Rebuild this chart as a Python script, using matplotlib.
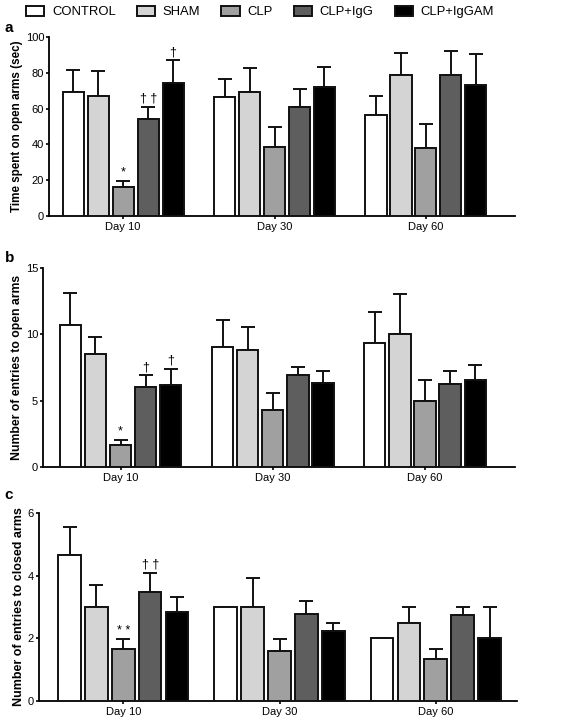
import numpy as np
import matplotlib
matplotlib.use("Agg")
import matplotlib.pyplot as plt
from matplotlib.patches import Patch

plt.rcParams["font.family"] = ["Liberation Sans", "DejaVu Sans"]

groups = ["CONTROL", "SHAM", "CLP", "CLP+IgG", "CLP+IgGAM"]
colors = ["#ffffff", "#d4d4d4", "#a0a0a0", "#5e5e5e", "#000000"]
days = ["Day 10", "Day 30", "Day 60"]

# mean values, rows = groups, cols = days
time_open = [[69.5, 66.5, 56.5],
             [67.0, 69.0, 79.0],
             [16.0, 38.5, 38.0],
             [54.0, 61.0, 79.0],
             [74.5, 72.0, 73.0]]
time_open_err = [[12.0, 10.0, 10.5],
                 [14.0, 13.5, 12.0],
                 [3.5, 11.0, 13.5],
                 [7.0, 10.0, 13.0],
                 [12.5, 11.0, 17.5]]

entries_open = [[10.7, 9.04, 9.36],
                [8.53, 8.78, 10.04],
                [1.69, 4.33, 5.0],
                [6.04, 6.92, 6.27],
                [6.17, 6.34, 6.54]]
entries_open_err = [[2.4, 2.06, 2.34],
                    [1.29, 1.79, 3.02],
                    [0.32, 1.21, 1.54],
                    [0.86, 0.61, 0.93],
                    [1.23, 0.91, 1.16]]

entries_closed = [[4.67, 3.0, 2.0],
                  [3.0, 3.0, 2.5],
                  [1.65, 1.59, 1.33],
                  [3.49, 2.78, 2.74],
                  [2.84, 2.23, 2.0]]
entries_closed_err = [[0.88, 0.0, 0.0],
                      [0.71, 0.91, 0.5],
                      [0.33, 0.39, 0.34],
                      [0.6, 0.4, 0.26],
                      [0.48, 0.26, 1.0]]

# significance marks: (group index, day index, text)
marks_a = [(2, 0, "*"), (3, 0, "† †"), (4, 0, "†")]
marks_b = [(2, 0, "*"), (3, 0, "†"), (4, 0, "†")]
marks_c = [(2, 0, "* *"), (3, 0, "† †")]

fig = plt.figure(figsize=(5.72, 7.24), dpi=100)


def draw_panel(rect, means, errs, ylim, yticks, ylabel, label_size,
               marks, letter, letter_y, xlim, pitch=0.165, width=0.14):
    ax = fig.add_axes(rect)
    x = np.arange(len(days))
    for i, g in enumerate(groups):
        pos = x + (i - 2) * pitch
        m = np.array(means[i])
        e = np.array(errs[i])
        ax.bar(pos, m, width=width, color=colors[i], edgecolor="#111111",
               linewidth=1.4, zorder=3)
        ax.errorbar(pos, m, yerr=[np.zeros_like(e), e], fmt="none",
                    ecolor="#111111", elinewidth=1.4, capsize=5, capthick=1.4,
                    zorder=2)
    off = (ylim[1] - ylim[0]) * 0.012
    for gi, di, txt in marks:
        pos = x[di] + (gi - 2) * pitch
        top = means[gi][di] + errs[gi][di] + off
        ax.text(pos, top, txt, ha="center", va="bottom", fontsize=9)
    ax.set_ylim(*ylim)
    ax.set_yticks(yticks)
    ax.set_xlim(*xlim)
    ax.set_xticks(x)
    ax.set_xticklabels(days)
    ax.spines["top"].set_visible(False)
    ax.spines["right"].set_visible(False)
    for s in ("left", "bottom"):
        ax.spines[s].set_linewidth(1.3)
    ax.tick_params(axis="y", labelsize=8, width=1.2, length=2.5, pad=1)
    ax.tick_params(axis="x", labelsize=8, width=1.2, length=2.5, pad=2)
    ax.set_ylabel(ylabel, fontsize=label_size, fontweight="bold", labelpad=2)
    fig.text(0.008, letter_y, letter, fontsize=11, fontweight="bold",
             ha="left", va="center")
    return ax


draw_panel([0.0857, 0.7017, 0.815, 0.2472], time_open, time_open_err,
           (0, 100), [0, 20, 40, 60, 80, 100], "Time spent on open arms (sec)",
           8.4, marks_a, "a", 0.962, (-0.49, 2.59))
draw_panel([0.075, 0.355, 0.825, 0.2749], entries_open, entries_open_err,
           (0, 15), [0, 5, 10, 15], "Number of entries to open arms",
           8.8, marks_b, "b", 0.643, (-0.51, 2.59))
draw_panel([0.068, 0.0318, 0.836, 0.2597], entries_closed, entries_closed_err,
           (0, 6), [0, 2, 4, 6], "Number of entries to closed arms",
           9.0, marks_c, "c", 0.316, (-0.54, 2.52),
           pitch=0.172, width=0.145)

handles = [Patch(facecolor=c, edgecolor="#111111", linewidth=1.4) for c in colors]
fig.legend(handles, groups, loc="upper left", bbox_to_anchor=(0.025, 1.008),
           ncol=5, frameon=False, fontsize=9.4, handlelength=1.4,
           handleheight=0.75, columnspacing=1.6, handletextpad=0.6)

fig.savefig("out.png", dpi=100)
